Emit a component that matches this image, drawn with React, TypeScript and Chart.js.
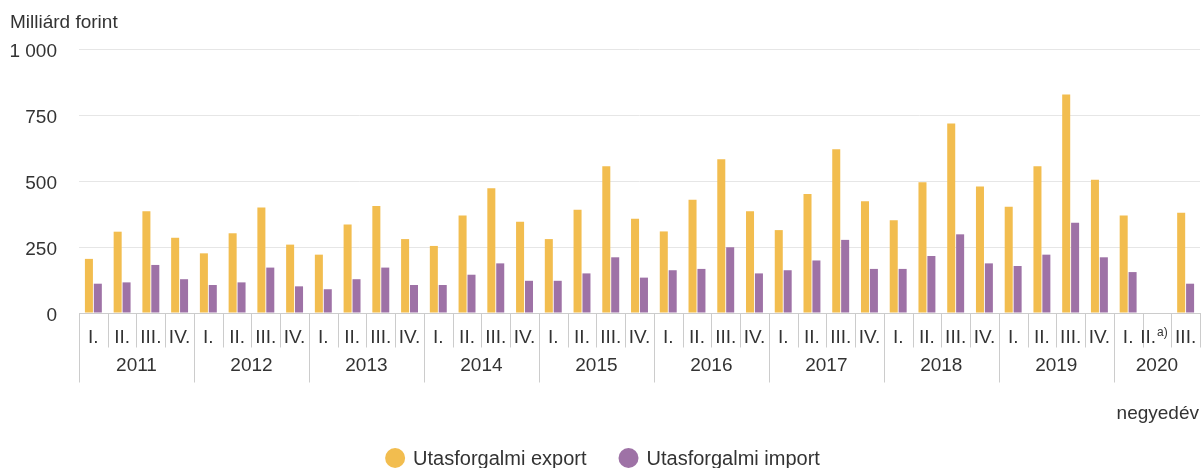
import React, { useEffect, useRef } from "react";
import { Chart, registerables } from "chart.js";

Chart.register(...registerables);

const years = ["2011", "2012", "2013", "2014", "2015", "2016", "2017", "2018", "2019", "2020"];
const quartersPerYear = [4, 4, 4, 4, 4, 4, 4, 4, 4, 3];
const quarterLabels = [
  "I.", "II.", "III.", "IV.",
  "I.", "II.", "III.", "IV.",
  "I.", "II.", "III.", "IV.",
  "I.", "II.", "III.", "IV.",
  "I.", "II.", "III.", "IV.",
  "I.", "II.", "III.", "IV.",
  "I.", "II.", "III.", "IV.",
  "I.", "II.", "III.", "IV.",
  "I.", "II.", "III.", "IV.",
  "I.", "II.", "III.",
];
const footnotes: Record<number, string> = { 37: "a)" };

const exportValues = [
  205, 308, 385, 285,
  226, 302, 400, 259,
  221, 335, 405, 280,
  254, 369, 473, 346,
  280, 391, 556, 357,
  309, 429, 582, 385,
  314, 451, 620, 423,
  351, 495, 718, 479,
  402, 556, 828, 505,
  369, null, 380,
];
const importValues = [
  111, 116, 182, 128,
  106, 116, 172, 101,
  90, 128, 172, 106,
  106, 145, 188, 122,
  122, 150, 211, 134,
  162, 167, 249, 150,
  162, 199, 277, 167,
  167, 216, 298, 188,
  178, 221, 342, 211,
  155, null, 111,
];

const seriesNames = ["Utasforgalmi export", "Utasforgalmi import"];
const seriesColors = ["#f2bd4f", "#9e72a6"];
const yTicks = [0, 250, 500, 750, 1000];
const yTitle = "Milliárd forint";
const xTitle = "negyedév";

const FONT = "'Liberation Sans', Arial, sans-serif";
const TEXT = "#333333";
const LINE = "#cccccc";

const groupedAxisPlugin = {
  id: "groupedAxis",
  afterDraw(chart: any) {
    const { ctx, chartArea, scales } = chart;
    const x = scales.x;
    const step = x.getPixelForValue(1) - x.getPixelForValue(0);
    const y0 = Math.round(chartArea.bottom) + 0.5;
    const crisp = (v: number) => Math.round(v) + 0.5;
    const vline = (px: number, len: number) => {
      ctx.beginPath();
      ctx.moveTo(crisp(px), y0);
      ctx.lineTo(crisp(px), y0 + len);
      ctx.stroke();
    };
    ctx.save();
    ctx.strokeStyle = LINE;
    ctx.lineWidth = 1;
    ctx.fillStyle = TEXT;
    ctx.textBaseline = "alphabetic";

    let idx = 0;
    years.forEach((yr, g) => {
      const cnt = quartersPerYear[g];
      const left = x.getPixelForValue(idx) - step / 2;
      const right = x.getPixelForValue(idx + cnt - 1) + step / 2;
      vline(left, 69);
      for (let k = 1; k < cnt; k++) {
        vline(x.getPixelForValue(idx + k) - step / 2, 34);
      }
      for (let k = 0; k < cnt; k++) {
        const i = idx + k;
        const cx = x.getPixelForValue(i);
        const lab = quarterLabels[i];
        const note = footnotes[i];
        ctx.font = `19px ${FONT}`;
        if (note) {
          const w1 = ctx.measureText(lab).width;
          ctx.font = `12px ${FONT}`;
          const w2 = ctx.measureText(note).width;
          const start = cx - (w1 + w2 + 1) / 2 - 3;
          ctx.font = `19px ${FONT}`;
          ctx.textAlign = "left";
          ctx.fillText(lab, start, y0 + 29);
          ctx.font = `12px ${FONT}`;
          ctx.fillText(note, start + w1 + 1, y0 + 22);
        } else {
          ctx.textAlign = "center";
          ctx.fillText(lab, cx, y0 + 29);
        }
      }
      ctx.font = `19px ${FONT}`;
      ctx.textAlign = "center";
      ctx.fillText(yr, (left + right) / 2, y0 + 57);
      idx += cnt;
    });
    vline(x.right - 0.5, 34);

    // axis titles
    ctx.font = `19px ${FONT}`;
    ctx.textAlign = "left";
    ctx.fillText(yTitle, 10, 28);
    ctx.textAlign = "right";
    ctx.fillText(xTitle, chart.width - 2, 419);

    // legend
    const datasets = chart.data.datasets;
    ctx.font = `20px ${FONT}`;
    const r = 10;
    const gapText = 8;
    const gapItems = 32;
    const widths = datasets.map((d: any) => 2 * r + gapText + ctx.measureText(d.label).width);
    const total = widths.reduce((a: number, b: number) => a + b, 0) + gapItems * (datasets.length - 1);
    let lx = chart.width / 2 - total / 2 + 2;
    const ly = 458;
    datasets.forEach((d: any, i: number) => {
      ctx.fillStyle = d.backgroundColor;
      ctx.beginPath();
      ctx.arc(lx + r, ly, r, 0, Math.PI * 2);
      ctx.fill();
      ctx.fillStyle = TEXT;
      ctx.textAlign = "left";
      ctx.fillText(d.label, lx + 2 * r + gapText, 465);
      lx += widths[i] + gapItems;
    });
    ctx.restore();
  },
};

export default function App() {
  const ref = useRef<HTMLCanvasElement | null>(null);

  useEffect(() => {
    if (!ref.current) return;
    const chart = new Chart(ref.current, {
      type: "bar",
      data: {
        labels: quarterLabels.map((q, i) => `${q}${i}`),
        datasets: [
          {
            label: seriesNames[0],
            data: exportValues as any,
            backgroundColor: seriesColors[0],
            categoryPercentage: 0.62,
            barPercentage: 0.9,
          },
          {
            label: seriesNames[1],
            data: importValues as any,
            backgroundColor: seriesColors[1],
            categoryPercentage: 0.62,
            barPercentage: 0.9,
          },
        ],
      },
      options: {
        animation: false,
        responsive: true,
        maintainAspectRatio: false,
        layout: { padding: { top: 49, left: 10, right: 1, bottom: 0 } },
        plugins: {
          legend: { display: false },
          tooltip: { enabled: false },
          title: { display: false },
        },
        scales: {
          x: {
            type: "category",
            offset: true,
            grid: { display: false },
            border: { display: true, color: LINE },
            ticks: { display: false },
            afterFit: (scale: any) => {
              scale.height = 155;
            },
          },
          y: {
            min: 0,
            max: 1000,
            afterBuildTicks: (scale: any) => {
              scale.ticks = yTicks.map((v) => ({ value: v }));
            },
            afterFit: (scale: any) => {
              scale.width = 69;
            },
            grid: { color: "#e6e6e6", drawTicks: false },
            border: { display: false },
            ticks: {
              padding: 22,
              labelOffset: 3,
              color: TEXT,
              font: { size: 19, family: FONT },
              callback: (v: any) => String(v).replace(/\B(?=(\d{3})+(?!\d))/g, " "),
            },
          },
        },
      },
      plugins: [groupedAxisPlugin],
    });
    return () => chart.destroy();
  }, []);

  return (
    <div style={{ position: "fixed", left: 0, top: 0, width: 1201, height: 468, background: "#fff" }}>
      <canvas ref={ref} />
    </div>
  );
}
